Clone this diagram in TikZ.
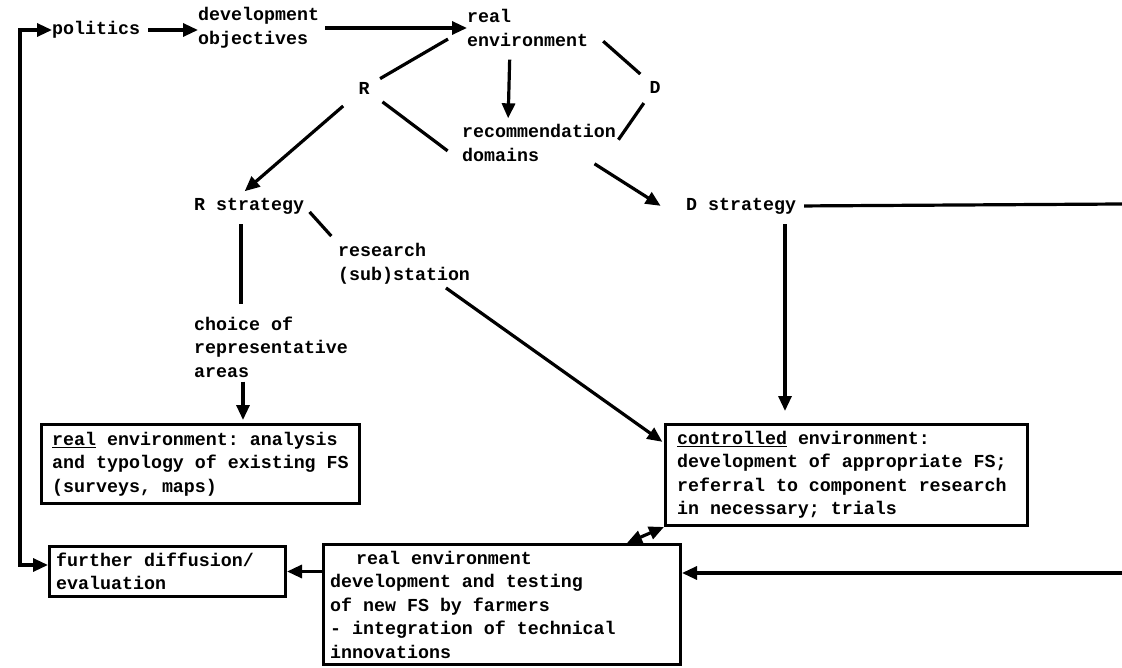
\documentclass[tikz,border=0pt]{standalone}
\usepackage{fontspec}
\setmonofont{Liberation Mono}
\usetikzlibrary{arrows.meta,calc}
\begin{document}
\begin{tikzpicture}[x=1pt,y=-1pt,
  txt/.style={font=\ttfamily\bfseries\fontsize{18.3}{23.5}\selectfont, inner sep=0pt, align=left, anchor=west},
  ln/.style={line width=3.2pt},
  arr/.style={ln, -{Triangle[length=15pt,width=13pt]}},
  darr/.style={ln, {Triangle[length=15pt,width=13pt]}-{Triangle[length=15pt,width=13pt]}},
  box/.style={draw, line width=3pt, inner sep=0pt, anchor=north west}]
\useasboundingbox (0,0) rectangle (1122,668);

% text nodes
\node[txt] (politics) at (52,30) {politics};
\node[txt] (devobj) at (198,28) {development\\objectives};
\node[txt] (realenv) at (467,28) {real\\environment};
\node[txt, anchor=center] (R) at (364,88) {R};
\node[txt, anchor=center] (D) at (655,87) {D};
\node[txt] (rec) at (462,143) {recommendation\\domains};
\node[txt] (Rstrat) at (194,206) {R strategy};
\node[txt] (Dstrat) at (686,206) {D strategy};
\node[txt] (research) at (338,264) {research\\(sub)station};
\node[txt] (choice) at (194,347) {choice of\\representative\\areas};

% boxes
\node[box, minimum width=318pt, minimum height=79pt] (b1) at (40,423) {};
\node[txt] (b1t) at ($(b1.west)+(12,0)$) {\underline{real} environment: analysis\\and typology of existing FS\\(surveys, maps)};
\node[box, minimum width=362pt, minimum height=101pt] (b2) at (664,423) {};
\node[txt] (b2t) at ($(b2.west)+(13,0)$) {\underline{controlled} environment:\\development of appropriate FS;\\referral to component research\\in necessary; trials};
\node[box, minimum width=236pt, minimum height=50pt] (b3) at (48,545) {};
\node[txt] (b3t) at ($(b3.west)+(8,0)$) {further diffusion/\\evaluation};
\node[box, minimum width=357pt, minimum height=120pt] (b4) at (322,543) {};
\node[txt] (b4t) at ($(b4.west)+(8,0)$) {\hspace*{26pt}real environment\\development and testing\\of new FS by farmers\\- integration of technical\\innovations};

% free ends
\coordinate (L1) at (20,30);
\coordinate (L2) at (20,565);
\coordinate (Rt1) at (1122,204);
\coordinate (Rt2) at (1122,573);

% connectors
\draw[darr] (politics.west) -- (L1) -- (L2) -- (L2 -| b3.west);
\draw[arr, shorten <=8pt] (politics.east) -- (politics.east -| devobj.west);
\draw[arr, shorten <=6pt] (devobj.east) -- (devobj.east -| realenv.west);
\draw[arr, shorten <=13pt, shorten >=6pt] ($(realenv.south west)+(43,0)$) -- ($(rec.north west)+(46,0)$);
\draw[ln, shorten <=12pt, shorten >=22pt] (R) -- (realenv.west);
\draw[arr, shorten <=20pt, shorten >=10pt] (R) -- ($(Rstrat.north)+(-12,0)$);
\draw[ln, shorten <=16pt, shorten >=18pt] (R) -- (rec.south west);
\draw[ln, shorten <=20pt, shorten >=12pt] (realenv.east) -- (D);
\draw[ln, shorten <=12pt, shorten >=4pt] (D) -- (rec.east);
\draw[arr, shorten <=4pt, shorten >=4pt] ($(rec.south east)+(-25,0)$) -- ($(Dstrat.west)+(-22,2)$);
\draw[ln, shorten <=8pt] (Dstrat.east) -- (Rt1);
\draw[arr, shorten <=10pt, shorten >=12pt] ($(Dstrat.south west)+(99,0)$) -- ($(b2.north west)+(121,0)$);
\draw[ln, shorten <=8pt, shorten >=10pt] (Rstrat.east) -- (research.north west);
\draw[ln, shorten <=10pt, shorten >=12pt] ($(Rstrat.south west)+(47,0)$) -- ($(choice.north west)+(47,0)$);
\draw[arr, shorten <=4pt, shorten >=3pt] ($(choice.south west)+(49,0)$) -- ($(b1.north west)+(203,0)$);
\draw[arr, shorten <=6pt, shorten >=2pt] ($(research.south)+(37,0)$) -- ($(b2.north west)+(0,20)$);
\draw[darr] ($(b4.north west)+(305,0)$) -- (b2.south west);
\draw[arr] (b4.west |- b3.east) -- (b3.east);
\draw[arr] (Rt2) -- (b4.east |- Rt2);
\end{tikzpicture}
\end{document}
